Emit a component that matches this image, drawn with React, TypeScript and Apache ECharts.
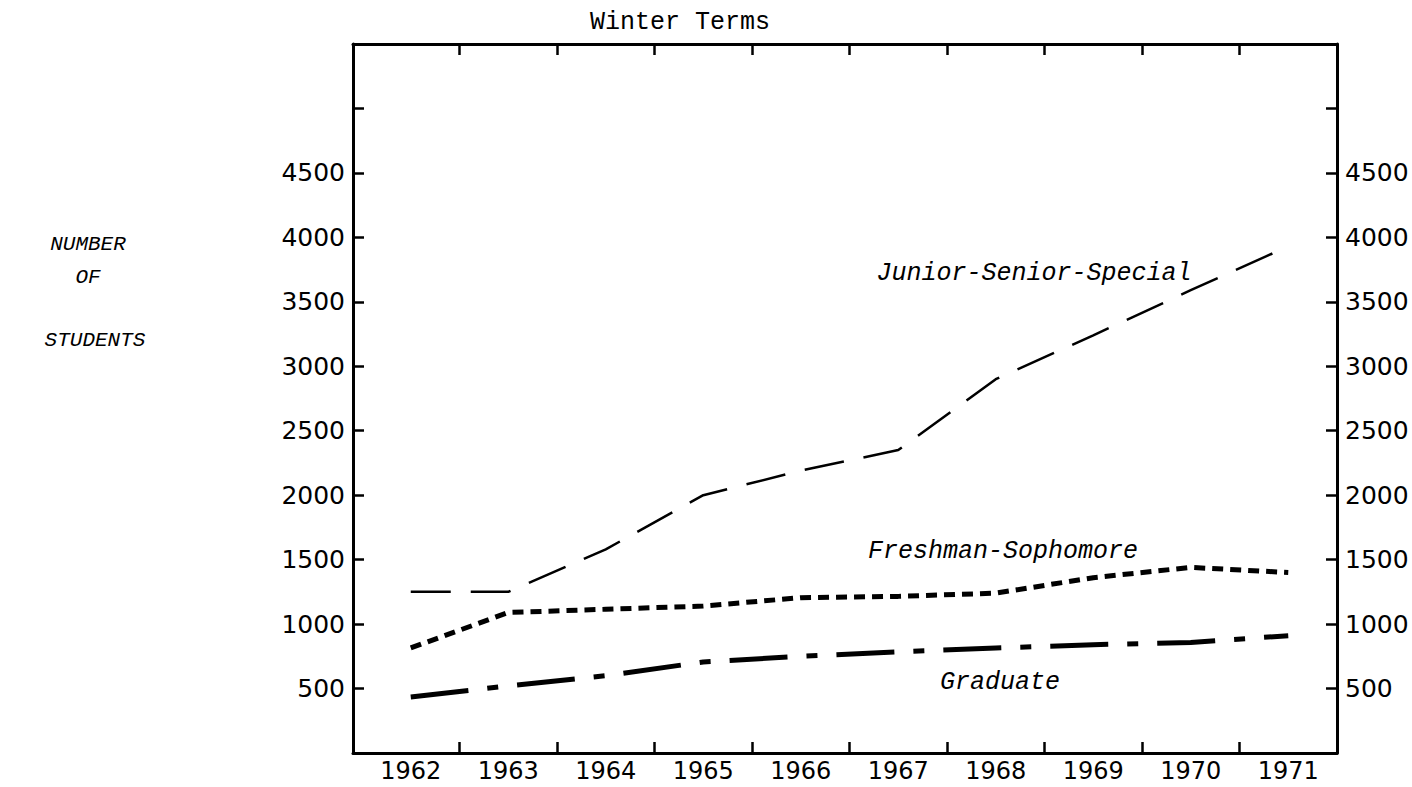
import React, { useEffect, useRef } from "react";
import * as echarts from "echarts";

const years = ["1962", "1963", "1964", "1965", "1966", "1967", "1968", "1969", "1970", "1971"];
const juniorSeniorSpecial = [1250, 1250, 1580, 2000, 2190, 2350, 2900, 3240, 3590, 3930];
const freshmanSophomore = [815, 1090, 1115, 1140, 1205, 1215, 1240, 1360, 1440, 1400];
const graduate = [435, 520, 600, 706, 750, 785, 815, 840, 858, 910];
const yTickLabels = [500, 1000, 1500, 2000, 2500, 3000, 3500, 4000, 4500];

const SANS = "'DejaVu Sans', sans-serif";
const MONO = "'Liberation Mono', 'DejaVu Sans Mono', monospace";

export default function App() {
  const ref = useRef<HTMLDivElement>(null);
  useEffect(() => {
    if (!ref.current) return;
    const chart = echarts.init(ref.current, null, { renderer: "svg" });
    const frameAxisX = (position: string) => ({
      gridIndex: 0,
      type: "value",
      min: 0,
      max: 1,
      position,
      axisLine: { show: true, onZero: false, lineStyle: { color: "#000", width: 3 } },
      axisTick: { show: false },
      axisLabel: { show: false },
      splitLine: { show: false },
    });
    const valueAxisY = (position: string) => ({
      gridIndex: 0,
      type: "value",
      min: 0,
      max: 5500,
      interval: 500,
      position,
      axisLine: { show: true, onZero: false, lineStyle: { color: "#000", width: 3 } },
      axisTick: { show: true, inside: true, length: 11, lineStyle: { color: "#000", width: 2.5 } },
      axisLabel: {
        margin: 8,
        color: "#000",
        fontSize: 25,
        fontFamily: SANS,
        formatter: (v: number) => (yTickLabels.includes(v) ? String(v) : ""),
      },
      splitLine: { show: false },
    });
    const catAxis = (position: string, showLabel: boolean) => ({
      gridIndex: 1,
      type: "category",
      data: years,
      position,
      boundaryGap: true,
      axisLine: { show: false, onZero: false },
      axisTick: {
        show: true,
        inside: true,
        length: 11,
        interval: (i: number) => i !== 0,
        lineStyle: { color: "#000", width: 2.5 },
      },
      axisLabel: {
        show: showLabel,
        margin: 6,
        color: "#000",
        fontSize: 24,
        fontFamily: SANS,
      },
      splitLine: { show: false },
    });
    const lineSeries = (name: string, data: number[], width: number, dash: number[]) => ({
      name,
      type: "line",
      xAxisIndex: 2,
      yAxisIndex: 2,
      data,
      symbol: "none",
      lineStyle: { color: "#000", width, type: dash, cap: "butt" },
    });
    const italicText = (text: string, x: number, y: number, size = 24) => ({
      type: "text",
      x,
      y,
      style: {
        text,
        fill: "#000",
        font: `italic ${size}px ${MONO}`,
        textAlign: "center",
        textVerticalAlign: "middle",
      },
    });
    chart.setOption({
      animation: false,
      backgroundColor: "#fff",
      grid: [
        { left: 353, right: 75, top: 44, bottom: 34 },
        { left: 362, right: 75, top: 44, bottom: 34 },
      ],
      xAxis: [frameAxisX("bottom"), frameAxisX("top"), catAxis("bottom", true), catAxis("top", false)],
      yAxis: [
        valueAxisY("left"),
        valueAxisY("right"),
        { gridIndex: 1, type: "value", min: 0, max: 5500, show: false },
      ],
      series: [
        lineSeries("Junior-Senior-Special", juniorSeniorSpecial, 2.5, [40, 20]),
        lineSeries("Freshman-Sophomore", freshmanSophomore, 5, [11, 7]),
        lineSeries("Graduate", graduate, 5, [58, 19, 11, 19]),
      ],
      graphic: [
        {
          type: "text",
          x: 680,
          y: 22,
          style: {
            text: "Winter Terms",
            fill: "#000",
            font: `25px ${MONO}`,
            textAlign: "center",
            textVerticalAlign: "middle",
          },
        },
        italicText("NUMBER", 88, 244, 21),
        italicText("OF", 88, 277, 21),
        italicText("STUDENTS", 95, 340, 21),
        italicText("Junior-Senior-Special", 1034, 273, 25),
        italicText("Freshman-Sophomore", 1003, 551, 25),
        italicText("Graduate", 1000, 682, 25),
      ],
    });
    return () => chart.dispose();
  }, []);
  return (
    <div
      ref={ref}
      style={{ position: "fixed", left: 0, top: 0, width: 1412, height: 787, background: "#fff" }}
    />
  );
}
